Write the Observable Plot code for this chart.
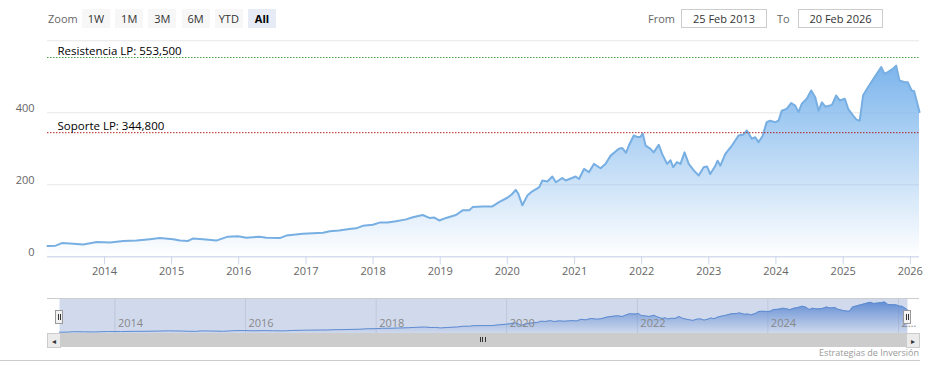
<!DOCTYPE html>
<html><head><meta charset="utf-8">
<script src="https://cdn.jsdelivr.net/npm/d3@7"></script>
<script src="https://cdn.jsdelivr.net/npm/@observablehq/plot@0.6"></script>
<style>
body{margin:0;background:#fff;font-family:"Open Sans",sans-serif;}
#wrap{position:relative;width:934px;height:376px;overflow:hidden;background:#fff;}
.abs{position:absolute;}
.lbl{position:absolute;top:9px;height:19px;line-height:19px;font-size:11px;color:#666;}
.btn{position:absolute;top:9px;height:19px;width:28px;background:#f7f7f7;color:#333;font-size:11px;line-height:19px;text-align:center;}
.btn.sel{background:#e6ebf5;font-weight:bold;color:#000;}
.inp{position:absolute;top:9px;height:17px;border:1px solid #cccccc;font-size:11px;line-height:17px;text-align:center;color:#333;background:#fff;}
.handle{position:absolute;width:6px;height:12px;background:#f2f2f2;border:1px solid #999;}
.handle i{position:absolute;top:3px;width:1px;height:6px;background:#333;}
.sbtn{position:absolute;top:333px;width:12px;height:13px;background:#ebebeb;border:1px solid #cccccc;}
.grip{position:absolute;top:337px;width:1px;height:5px;background:#333;}
svg{position:absolute;}
</style></head>
<body>
<div id="wrap"></div>
<script>
// ---- data ----
const dates = ["2013-02-25","2013-04-10","2013-05-14","2013-07-16","2013-09-08","2013-11-20","2014-02-01","2014-04-13","2014-06-25","2014-09-05","2014-10-29","2015-01-10","2015-02-15","2015-04-01","2015-04-28","2015-06-21","2015-09-01","2015-11-03","2015-12-28","2016-02-12","2016-04-24","2016-05-31","2016-08-11","2016-09-16","2016-12-15","2017-04-04","2017-05-10","2017-06-30","2017-08-25","2017-10-01","2017-11-06","2017-12-31","2018-02-05","2018-03-20","2018-05-06","2018-06-30","2018-08-05","2018-09-28","2018-11-03","2018-11-30","2018-12-27","2019-02-02","2019-03-28","2019-05-03","2019-06-08","2019-06-26","2019-08-19","2019-10-12","2019-11-17","2020-01-01","2020-01-25","2020-02-16","2020-03-01","2020-03-23","2020-04-19","2020-05-16","2020-06-22","2020-07-10","2020-08-06","2020-09-02","2020-09-21","2020-10-26","2020-11-14","2021-01-07","2021-01-25","2021-02-21","2021-03-20","2021-04-16","2021-05-22","2021-06-18","2021-07-16","2021-08-30","2021-09-17","2021-10-08","2021-10-23","2021-11-19","2021-12-07","2021-12-25","2022-01-07","2022-01-22","2022-02-18","2022-03-07","2022-04-04","2022-04-22","2022-05-19","2022-06-07","2022-06-21","2022-07-12","2022-07-31","2022-08-22","2022-09-14","2022-10-11","2022-11-07","2022-12-04","2022-12-22","2023-01-09","2023-02-06","2023-02-18","2023-03-05","2023-04-01","2023-05-07","2023-06-12","2023-07-09","2023-07-27","2023-08-23","2023-09-11","2023-09-28","2023-10-20","2023-11-12","2023-12-01","2023-12-28","2024-01-15","2024-02-02","2024-02-29","2024-03-24","2024-04-15","2024-05-03","2024-05-21","2024-06-17","2024-07-11","2024-08-02","2024-08-20","2024-09-07","2024-09-26","2024-11-01","2024-11-24","2024-12-14","2025-01-10","2025-01-28","2025-02-24","2025-03-14","2025-04-01","2025-04-19","2025-05-16","2025-06-21","2025-07-27","2025-08-14","2025-09-01","2025-09-28","2025-10-16","2025-11-03","2025-12-01","2025-12-18","2026-01-08","2026-01-22","2026-02-20"];
const values = [30,31,38,36,34,41,40,44,45,49,52,49,45,44,51,49,45,56,57,53,56,53,52,59,64,67,71,73,77,79,86,89,95,95,99,104,110,116,108,109,101,108,116,129,129,138,140,140,152,164,173,186,175,143,170,182,193,212,209,223,207,219,212,223,216,244,235,258,246,258,281,300,302,289,309,337,333,333,342,309,300,290,311,286,258,268,249,263,258,290,258,240,226,249,251,230,253,267,253,286,309,337,340,351,328,332,318,335,374,378,374,378,406,411,427,420,402,425,439,462,443,406,429,417,422,448,434,439,411,392,381,378,448,471,499,527,508,513,522,531,490,485,485,462,460,402];
const yTicks = [0, 200, 400];
const gridTicks = [0, 200, 400, 600];
const xYears = [2014,2015,2016,2017,2018,2019,2020,2021,2022,2023,2024,2025,2026];
const navYears = [2014,2016,2018,2020,2022,2024,2026];
const plotLineValues = [553.5, 344.8];
const plotLineLabels = ["Resistencia LP: 553,500", "Soporte LP: 344,800"];
const plotLineColors = ["#45a045", "#b22222"];
const rangeButtons = ["1W","1M","3M","6M","YTD","All"];
const fromDate = "25 Feb 2013", toDate = "20 Feb 2026";
const credit = "Estrategias de Inversión";

// ---- build ----
const wrap = document.getElementById("wrap");
const data = dates.map((d,i)=>({date:new Date(d+"T00:00:00Z"), value:values[i]}));
const x0 = data[0].date, x1 = data[data.length-1].date;
const yearDate = y => new Date(Date.UTC(y,0,1));

function gradDefs(id, color, topOpacity){
  return () => {
    const ns="http://www.w3.org/2000/svg";
    const defs=document.createElementNS(ns,"defs");
    const g=document.createElementNS(ns,"linearGradient");
    g.setAttribute("id",id);g.setAttribute("x1","0");g.setAttribute("y1","0");g.setAttribute("x2","0");g.setAttribute("y2","1");
    [[0,topOpacity],[1,0]].forEach(([o,a])=>{const s=document.createElementNS(ns,"stop");s.setAttribute("offset",o);s.setAttribute("stop-color",color);s.setAttribute("stop-opacity",a);g.appendChild(s);});
    defs.appendChild(g);return defs;
  };
}
function box(styles, cls, text){const e=document.createElement("div");e.className=cls||"abs";Object.assign(e.style,styles);if(text!=null)e.textContent=text;wrap.appendChild(e);return e;}

// range selector
box({left:"48px"},"lbl","Zoom");
rangeButtons.forEach((b,i)=>box({left:(82+i*33.2)+"px"},"btn"+(b==="All"?" sel":""),b));
box({left:"648px"},"lbl","From");
box({left:"681px",width:"84px"},"inp",fromDate);
box({left:"777px"},"lbl","To");
box({left:"798px",width:"83px"},"inp",toDate);

// main chart
const lines = plotLineValues.map((v,i)=>({v, label:plotLineLabels[i], color:plotLineColors[i]}));
const mainChart = Plot.plot({
  width:934, height:290, marginLeft:47, marginRight:15, marginTop:40.3, marginBottom:33.7,
  style:{fontFamily:"Open Sans", fontSize:"11px", background:"transparent", overflow:"visible"},
  x:{type:"utc", domain:[x0,x1]},
  y:{domain:[0,600]},
  marks:[
    gradDefs("mainGrad","#7cb5ec",1),
    Plot.gridY(gridTicks,{stroke:"#e6e6e6", strokeOpacity:1}),
    Plot.areaY(data,{x:"date", y:"value", fill:"url(#mainGrad)"}),
    Plot.lineY(data,{x:"date", y:"value", stroke:"#78afe3", strokeWidth:2}),
    Plot.ruleY([0],{stroke:"#ccd6eb"}),
    Plot.ruleY(lines,{y:"v", stroke:"color", strokeDasharray:"1.5,1.5", strokeWidth:1}),
    Plot.text(lines,{y:"v", text:"label", frameAnchor:"left", textAnchor:"start", dx:10, dy:-6, fill:"#000", fontSize:11.5}),
    Plot.axisY(yTicks,{tickSize:0, tickPadding:13, dy:-4, fill:"#666", fontSize:11, label:null}),
    Plot.axisX(xYears.map(yearDate),{tickSize:8, tickPadding:2, stroke:"#ccd6eb", fill:"#666", fontSize:11, tickFormat:"%Y", label:null})
  ]
});
mainChart.style.left="0px";mainChart.style.top="0px";
wrap.appendChild(mainChart);

// navigator
const navChart = Plot.plot({
  width:934, height:46, marginLeft:59, marginRight:27, marginTop:8.3, marginBottom:2.5,
  style:{fontFamily:"Open Sans", fontSize:"11px", background:"transparent", overflow:"visible"},
  x:{type:"utc", domain:[x0,x1], axis:null},
  y:{domain:[0,585], axis:null},
  marks:[
    gradDefs("navGrad","#4f86d6",0.9),
    Plot.gridX(navYears.map(yearDate),{stroke:"#e6e6e6", strokeOpacity:1}),
    Plot.areaY(data,{x:"date", y:"value", fill:"url(#navGrad)"}),
    Plot.lineY(data,{x:"date", y:"value", stroke:"#5b8fd8", strokeWidth:1}),
    Plot.frame({fill:"rgba(102,133,194,0.3)", stroke:null}),
    Plot.text(navYears,{x:yearDate, text:y=>y===2026?"2…":String(y), frameAnchor:"bottom", dy:-7, dx:3, textAnchor:"start", fill:"#888", fontSize:11})
  ]
});
navChart.style.left="0px";navChart.style.top="290px";
wrap.appendChild(navChart);

// navigator outline, handles, scrollbar
box({left:"47px",top:"298px",width:"872px",height:"1px",background:"#cccccc"});
box({left:"47px",top:"333px",width:"872px",height:"14px",background:"#cccccc"});
[[47,"◂"],[906,"▸"]].forEach(([l,a])=>box({left:l+"px",fontSize:"8px",lineHeight:"13px",textAlign:"center",color:"#333"},"sbtn",a));
[479.5,482,484.5].forEach(l=>box({left:l+"px"},"grip"));
[[55,310],[903,310]].forEach(([l,t])=>{const h=box({left:l+"px",top:t+"px"},"handle");["2px","4px"].forEach(p=>{const i=document.createElement("i");i.style.left=p;h.appendChild(i);});});
box({right:(934-919)+"px",top:"347px",fontSize:"9px",color:"#999",lineHeight:"12px"},"abs",credit);
box({left:"0px",top:"360px",width:"920px",height:"1px",background:"#cccccc"});
</script>
</body></html>
